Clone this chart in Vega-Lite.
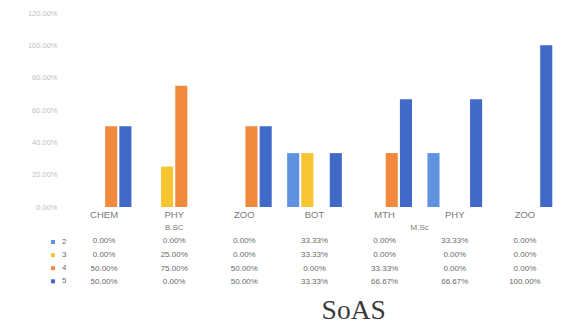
{
  "$schema": "https://vega.github.io/schema/vega-lite/v6.json",
  "padding": {"left": 27, "top": 9, "right": 13, "bottom": 5},
  "autosize": {"type": "pad"},
  "background": "white",
  "spacing": 2,
  "config": {"view": {"stroke": null}, "font": "Liberation Sans"},
  "title": {"text": "SoAS", "orient": "bottom", "font": "Liberation Serif", "fontSize": 27.5, "fontWeight": "normal", "color": "#3a3a3a", "anchor": "middle", "dx": 60, "offset": 8},
  "datasets": {
    "bars": [
      {"grp": "B.SC", "col": "B.SC CHEM", "s": "2", "v": 0},
      {"grp": "B.SC", "col": "B.SC CHEM", "s": "3", "v": 0},
      {"grp": "B.SC", "col": "B.SC CHEM", "s": "4", "v": 0.5},
      {"grp": "B.SC", "col": "B.SC CHEM", "s": "5", "v": 0.5},
      {"grp": "B.SC", "col": "B.SC PHY", "s": "2", "v": 0},
      {"grp": "B.SC", "col": "B.SC PHY", "s": "3", "v": 0.25},
      {"grp": "B.SC", "col": "B.SC PHY", "s": "4", "v": 0.75},
      {"grp": "B.SC", "col": "B.SC PHY", "s": "5", "v": 0},
      {"grp": "B.SC", "col": "B.SC ZOO", "s": "2", "v": 0},
      {"grp": "B.SC", "col": "B.SC ZOO", "s": "3", "v": 0},
      {"grp": "B.SC", "col": "B.SC ZOO", "s": "4", "v": 0.5},
      {"grp": "B.SC", "col": "B.SC ZOO", "s": "5", "v": 0.5},
      {"grp": "M.Sc", "col": "M.Sc BOT", "s": "2", "v": 0.3333},
      {"grp": "M.Sc", "col": "M.Sc BOT", "s": "3", "v": 0.3333},
      {"grp": "M.Sc", "col": "M.Sc BOT", "s": "4", "v": 0},
      {"grp": "M.Sc", "col": "M.Sc BOT", "s": "5", "v": 0.3333},
      {"grp": "M.Sc", "col": "M.Sc MTH", "s": "2", "v": 0},
      {"grp": "M.Sc", "col": "M.Sc MTH", "s": "3", "v": 0},
      {"grp": "M.Sc", "col": "M.Sc MTH", "s": "4", "v": 0.3333},
      {"grp": "M.Sc", "col": "M.Sc MTH", "s": "5", "v": 0.6667},
      {"grp": "M.Sc", "col": "M.Sc PHY", "s": "2", "v": 0.3333},
      {"grp": "M.Sc", "col": "M.Sc PHY", "s": "3", "v": 0},
      {"grp": "M.Sc", "col": "M.Sc PHY", "s": "4", "v": 0},
      {"grp": "M.Sc", "col": "M.Sc PHY", "s": "5", "v": 0.6667},
      {"grp": "M.Sc", "col": "M.Sc ZOO", "s": "2", "v": 0},
      {"grp": "M.Sc", "col": "M.Sc ZOO", "s": "3", "v": 0},
      {"grp": "M.Sc", "col": "M.Sc ZOO", "s": "4", "v": 0},
      {"grp": "M.Sc", "col": "M.Sc ZOO", "s": "5", "v": 1}
    ],
    "groups": [
      {"grp": "B.SC", "col": "B.SC PHY", "row": "grp"},
      {"grp": "M.Sc", "col": "M.Sc MTH", "row": "grp"}
    ]
  },
  "vconcat": [
    {
      "width": 491,
      "height": 194,
      "data": {"name": "bars"},
      "mark": {"type": "bar"},
      "encoding": {
        "x": {
          "field": "col", "type": "nominal",
          "scale": {"domain": ["B.SC CHEM", "B.SC PHY", "B.SC ZOO", "M.Sc BOT", "M.Sc MTH", "M.Sc PHY", "M.Sc ZOO"], "paddingInner": 0.22, "paddingOuter": 0.11},
          "axis": {"title": null, "labelExpr": "split(datum.label, ' ')[1]", "labelAngle": 0, "ticks": false, "domain": false, "labelFontSize": 9.5, "labelColor": "#7a7a7a", "labelPadding": 2}
        },
        "xOffset": {"field": "s", "type": "nominal", "scale": {"domain": ["2", "3", "4", "5"], "paddingInner": 0.15}},
        "y": {
          "field": "v", "type": "quantitative",
          "scale": {"domain": [0, 1.2]},
          "axis": {"title": null, "format": ".2%", "values": [0, 0.2, 0.4, 0.6, 0.8, 1.0, 1.2], "grid": false, "ticks": false, "domain": false, "labelFontSize": 7.5, "labelColor": "#c0c0c0", "labelPadding": 12}
        },
        "color": {
          "field": "s", "type": "nominal",
          "scale": {"domain": ["2", "3", "4", "5"], "range": ["#5f93e0", "#f7c531", "#f18a3d", "#4169c8"]},
          "legend": {"orient": "none", "legendX": -20, "legendY": 225, "title": null, "symbolType": "square", "symbolSize": 16, "symbolStrokeWidth": 0, "labelFontSize": 8, "labelColor": "#6a6a6a", "rowPadding": 5.1, "labelOffset": 5}
        }
      }
    },
    {
      "width": 491,
      "height": 68,
      "layer": [
        {
          "data": {"name": "bars"},
          "mark": {"type": "text", "fontSize": 8, "color": "#6a6a6a"},
          "encoding": {
            "x": {"field": "col", "type": "nominal", "scale": {"type": "band", "domain": ["B.SC CHEM", "B.SC PHY", "B.SC ZOO", "M.Sc BOT", "M.Sc MTH", "M.Sc PHY", "M.Sc ZOO"], "padding": 0}, "axis": null},
            "y": {"field": "s", "type": "nominal", "scale": {"type": "band", "domain": ["grp", "2", "3", "4", "5"], "padding": 0}, "axis": null},
            "text": {"field": "v", "type": "quantitative", "format": ".2%"}
          }
        },
        {
          "data": {"name": "groups"},
          "transform": [{"filter": "datum.grp == 'B.SC'"}],
          "mark": {"type": "text", "fontSize": 8, "color": "#7a7a7a"},
          "encoding": {
            "x": {"field": "col", "type": "nominal", "bandPosition": 0.5},
            "y": {"field": "row", "type": "nominal"},
            "text": {"field": "grp", "type": "nominal"}
          }
        },
        {
          "data": {"name": "groups"},
          "transform": [{"filter": "datum.grp == 'M.Sc'"}],
          "mark": {"type": "text", "fontSize": 8, "color": "#7a7a7a"},
          "encoding": {
            "x": {"field": "col", "type": "nominal", "bandPosition": 1},
            "y": {"field": "row", "type": "nominal"},
            "text": {"field": "grp", "type": "nominal"}
          }
        }
      ]
    }
  ]
}
